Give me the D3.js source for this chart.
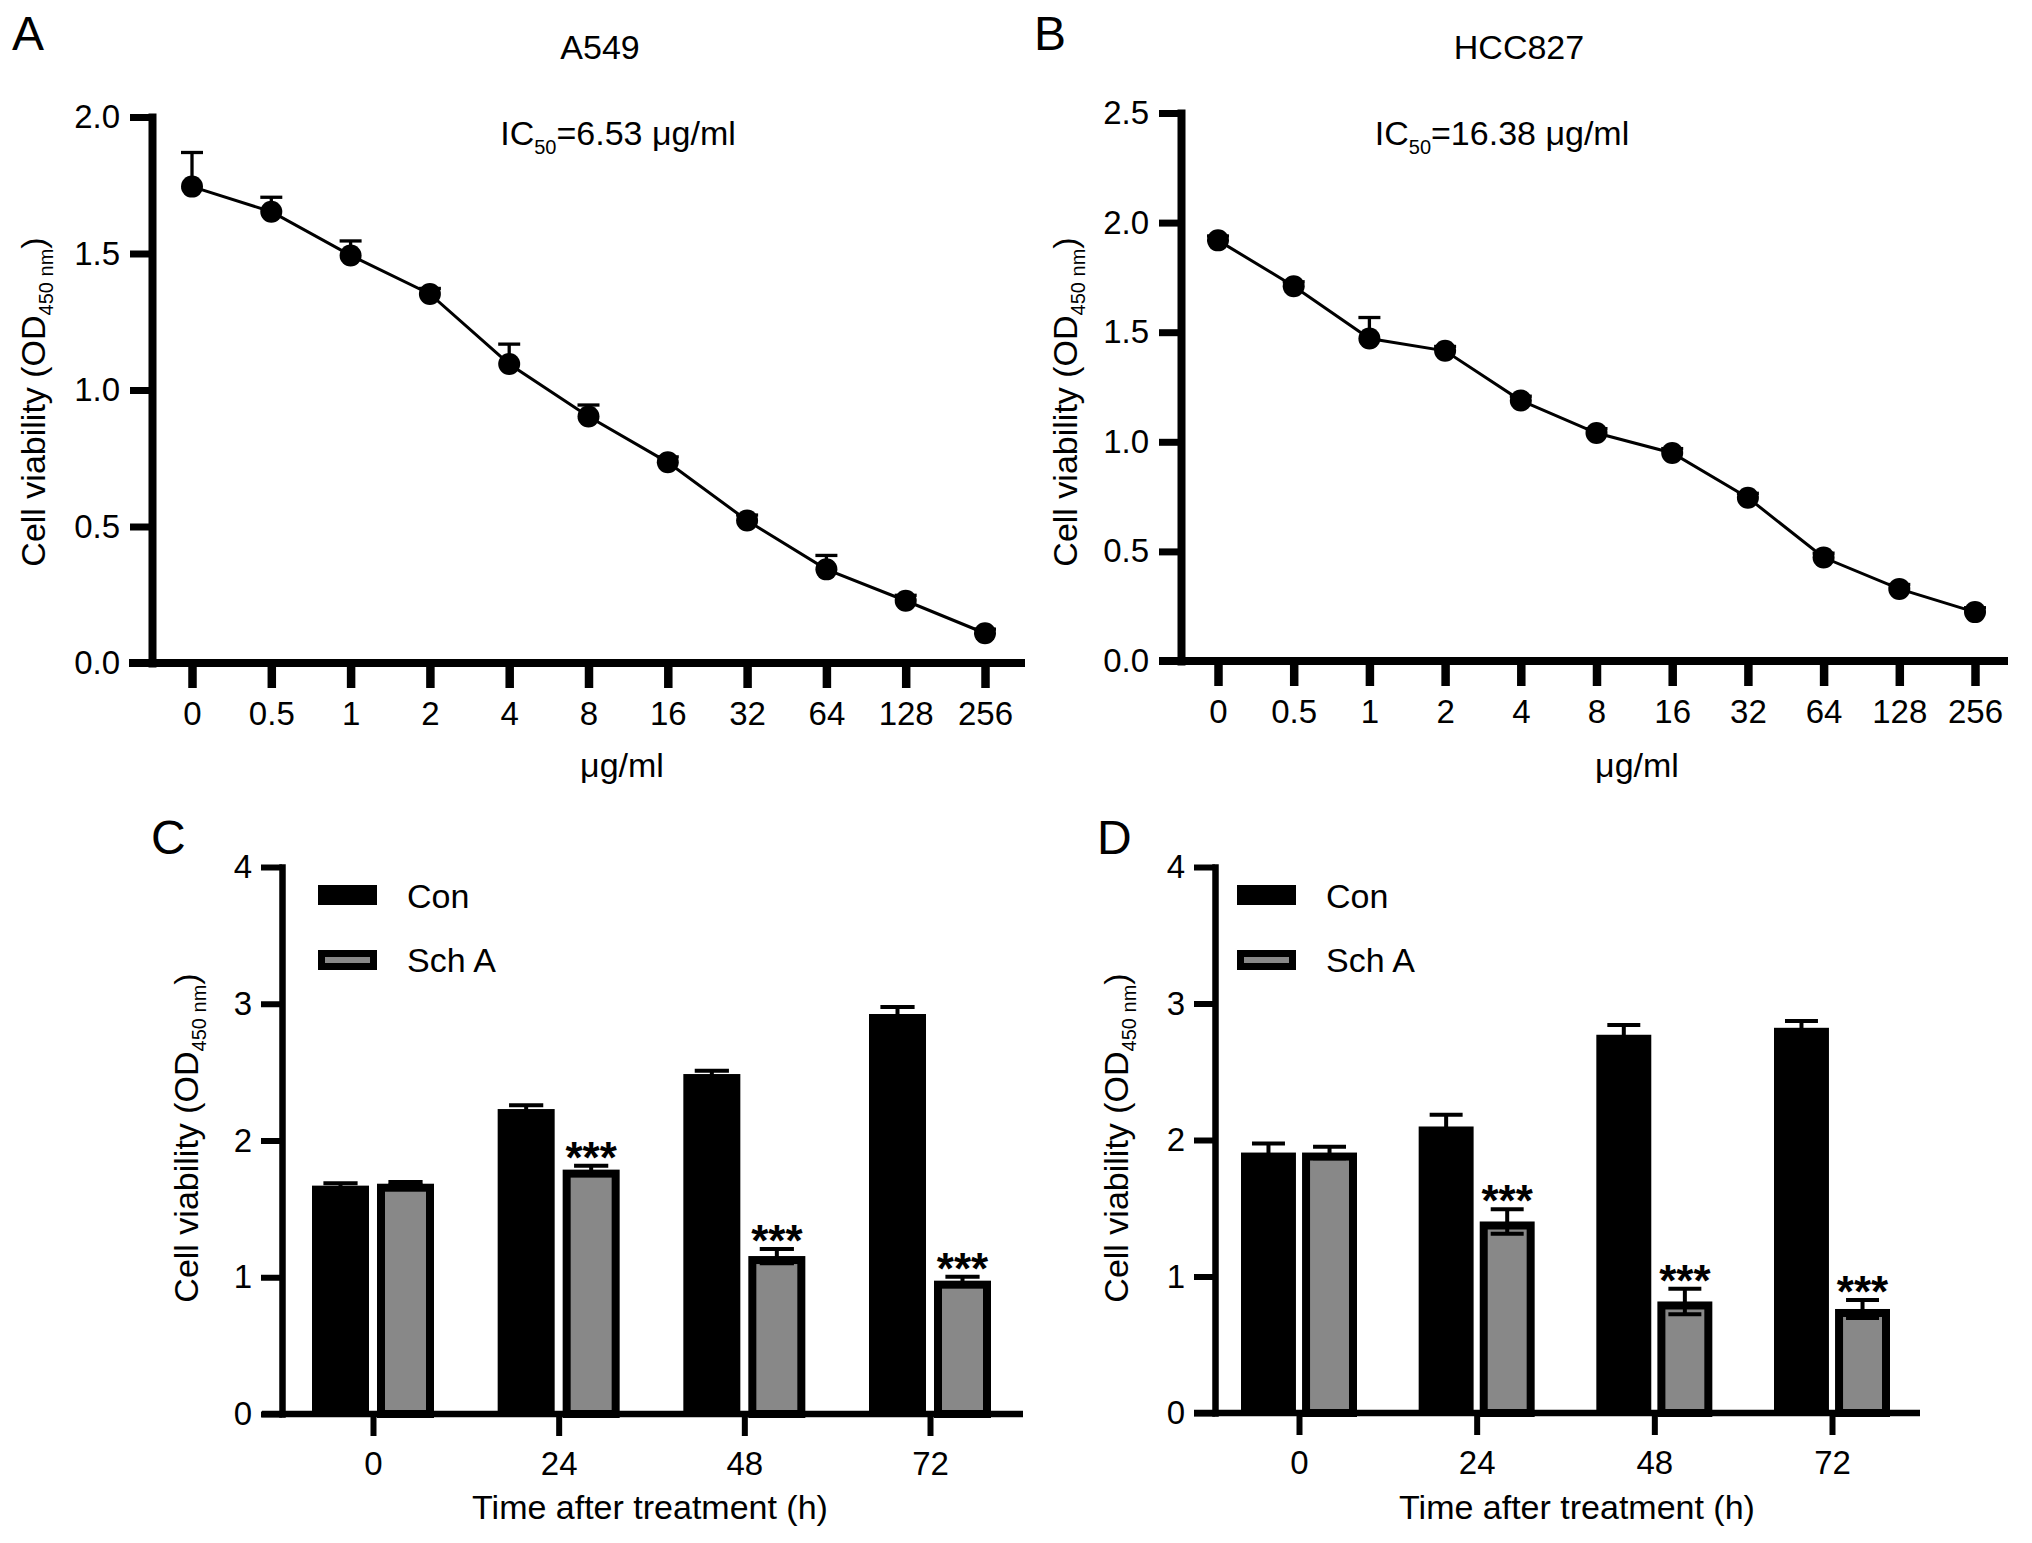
<!DOCTYPE html>
<html>
<head>
<meta charset="utf-8">
<script src="https://cdn.jsdelivr.net/npm/d3@7"></script>
<style>
  body { margin: 0; background: #fff; }
  text { font-family: "Liberation Sans", Arial, sans-serif; fill: #000; }
</style>
</head>
<body>
<svg id="fig" width="2032" height="1543"></svg>
<script>
// ---- data ----
const doses = ["0", "0.5", "1", "2", "4", "8", "16", "32", "64", "128", "256"];

const a549Mean = [1.745, 1.653, 1.493, 1.352, 1.095, 0.903, 0.735, 0.522, 0.343, 0.228, 0.109];
const a549Sd   = [0.125, 0.053, 0.053, 0.02, 0.073, 0.042, 0.02, 0.02, 0.051, 0.02, 0.015];

const hccMean = [1.919, 1.710, 1.471, 1.415, 1.188, 1.040, 0.949, 0.745, 0.472, 0.329, 0.223];
const hccSd   = [0.02, 0.02, 0.096, 0.02, 0.02, 0.02, 0.02, 0.02, 0.02, 0.02, 0.02];

const hours = ["0", "24", "48", "72"];
const groups = ["Con", "Sch A"];

const cCon   = [1.670, 2.230, 2.486, 2.925];
const cConSd = [0.017, 0.028, 0.024, 0.052];
const cSch   = [1.684, 1.787, 1.155, 0.975];
const cSchSd = [0.013, 0.028, 0.052, 0.028];

const dCon   = [1.908, 2.099, 2.771, 2.822];
const dConSd = [0.066, 0.086, 0.072, 0.049];
const dSch   = [1.908, 1.403, 0.817, 0.762];
const dSchSd = [0.042, 0.090, 0.094, 0.066];

// significance stars (Sch A vs Con) per time point
const stars = ["", "***", "***", "***"];

const svg = d3.select("#fig");
svg.append("rect").attr("width", 2032).attr("height", 1543).attr("fill", "#fff");

const FS = 34;     // titles
const TFS = 33;    // tick labels
const GRAY = "#888888";

function panelLetter(letter, x, y) {
  svg.append("text").attr("x", x).attr("y", y)
    .attr("font-size", 48).text(letter);
}

function yTitle(x, y) {
  const t = svg.append("text")
    .attr("transform", `translate(${x},${y}) rotate(-90)`)
    .attr("text-anchor", "middle")
    .attr("font-size", FS);
  t.append("tspan").text("Cell viability (OD");
  t.append("tspan").attr("font-size", 20).attr("dy", 8).text("450 nm");
  t.append("tspan").attr("dy", -8).text(")");
}

function styleAxis(g, axW, tickW) {
  g.select(".domain").attr("stroke-width", axW).attr("stroke-linecap", "square");
  g.selectAll(".tick line").attr("stroke-width", tickW);
  g.selectAll(".tick text").attr("font-size", TFS)
    .attr("font-family", '"Liberation Sans", Arial, sans-serif');
}

function drawLinePanel(p) {
  const y = d3.scaleLinear().domain(p.yDomain).range([p.yBottom, p.yTop]);
  const x = d3.scalePoint().domain(doses).range(p.xRange);

  const gy = svg.append("g").attr("transform", `translate(${p.axisX},0)`)
    .call(d3.axisLeft(y).tickValues(p.yTicks).tickSize(22).tickSizeOuter(0)
      .tickPadding(10).tickFormat(d3.format(".1f")));
  styleAxis(gy, 8, 7);

  const gx = svg.append("g").attr("transform", `translate(0,${p.yBottom})`)
    .call(d3.axisBottom(x).tickSize(25).tickPadding(14));
  gx.select(".domain").remove();
  styleAxis(gx, 8, 8.5);
  svg.append("line").attr("x1", p.xLine[0]).attr("x2", p.xLine[1])
    .attr("y1", p.yBottom).attr("y2", p.yBottom)
    .attr("stroke", "#000").attr("stroke-width", 8);

  const pts = doses.map((d, i) => ({ d, m: p.mean[i], s: p.sd[i] }));

  // error bars (upper whisker only shows above the dot)
  const eb = svg.append("g").attr("stroke", "#000").attr("stroke-width", 3.3);
  pts.forEach(o => {
    eb.append("line").attr("x1", x(o.d)).attr("x2", x(o.d))
      .attr("y1", y(o.m)).attr("y2", y(o.m + o.s));
    eb.append("line").attr("x1", x(o.d) - 11).attr("x2", x(o.d) + 11)
      .attr("y1", y(o.m + o.s)).attr("y2", y(o.m + o.s));
  });

  svg.append("path").datum(pts)
    .attr("fill", "none").attr("stroke", "#000").attr("stroke-width", 3)
    .attr("d", d3.line().x(o => x(o.d)).y(o => y(o.m)));

  svg.append("g").selectAll("circle").data(pts).join("circle")
    .attr("cx", o => x(o.d)).attr("cy", o => y(o.m)).attr("r", 11).attr("fill", "#000");

  // titles
  svg.append("text").attr("x", p.titleX).attr("y", 59).attr("text-anchor", "middle")
    .attr("font-size", FS).text(p.title);
  const ic = svg.append("text").attr("x", p.icX).attr("y", 145).attr("text-anchor", "middle")
    .attr("font-size", FS);
  ic.append("tspan").text("IC");
  ic.append("tspan").attr("font-size", 20).attr("dy", 9).text("50");
  ic.append("tspan").attr("dy", -9).text(p.ic);
  svg.append("text").attr("x", p.unitX).attr("y", 777).attr("text-anchor", "middle")
    .attr("font-size", FS).text("\u03bcg/ml");

  yTitle(p.yTitleX, 402);
  panelLetter(p.letter, p.letterX, 50);
}

function drawBarPanel(p) {
  const y = d3.scaleLinear().domain([0, 4]).range([p.yBottom, p.yTop]);
  const x = d3.scalePoint().domain(hours).range(p.centers);
  const xs = d3.scaleBand().domain(groups).range([-p.half, p.half]).paddingInner(p.pad);
  const bw = xs.bandwidth();

  const rows = [];
  hours.forEach((h, i) => {
    rows.push({ h, g: "Con", m: p.con[i], s: p.conSd[i] });
    rows.push({ h, g: "Sch A", m: p.sch[i], s: p.schSd[i], star: stars[i] });
  });

  const sw = 8; // outline of grey bars
  const bars = svg.append("g");
  rows.forEach(o => {
    const x0 = x(o.h) + xs(o.g);
    if (o.g === "Con") {
      bars.append("rect").attr("x", x0).attr("width", bw)
        .attr("y", y(o.m)).attr("height", y(0) - y(o.m)).attr("fill", "#000");
    } else {
      bars.append("rect").attr("x", x0 + sw / 2).attr("width", bw - sw)
        .attr("y", y(o.m) + sw / 2).attr("height", y(0) - y(o.m) - sw / 2)
        .attr("fill", GRAY).attr("stroke", "#000").attr("stroke-width", sw);
    }
  });

  // error bars
  const eb = svg.append("g").attr("stroke", "#000").attr("stroke-width", 4);
  const cap = bw * 0.3;
  rows.forEach(o => {
    const cx = x(o.h) + xs(o.g) + bw / 2;
    eb.append("line").attr("x1", cx).attr("x2", cx)
      .attr("y1", y(o.m - o.s)).attr("y2", y(o.m + o.s));
    [o.m + o.s, o.m - o.s].forEach(v => {
      eb.append("line").attr("x1", cx - cap).attr("x2", cx + cap)
        .attr("y1", y(v)).attr("y2", y(v));
    });
    if (o.star) {
      svg.append("text").attr("x", cx).attr("y", y(o.m + o.s) + 7)
        .attr("text-anchor", "middle").attr("font-size", 44).attr("font-weight", "bold")
        .text(o.star);
    }
  });

  const gy = svg.append("g").attr("transform", `translate(${p.axisX},0)`)
    .call(d3.axisLeft(y).ticks(4).tickSize(21).tickSizeOuter(0).tickPadding(9)
      .tickFormat(d3.format("d")));
  styleAxis(gy, 6.5, 6);

  const gx = svg.append("g").attr("transform", `translate(0,${p.yBottom})`)
    .call(d3.axisBottom(x).tickSize(22).tickPadding(16));
  gx.select(".domain").remove();
  styleAxis(gx, 6.5, 6);
  svg.append("line").attr("x1", p.xLine[0]).attr("x2", p.xLine[1])
    .attr("y1", p.yBottom).attr("y2", p.yBottom)
    .attr("stroke", "#000").attr("stroke-width", 6.5);

  // legend
  const lg = svg.append("g");
  lg.append("rect").attr("x", p.legX).attr("y", 885).attr("width", 59).attr("height", 20)
    .attr("fill", "#000");
  lg.append("rect").attr("x", p.legX + 3.5).attr("y", 953.5).attr("width", 52).attr("height", 13)
    .attr("fill", GRAY).attr("stroke", "#000").attr("stroke-width", 7);
  lg.append("text").attr("x", p.legX + 89).attr("y", 908).attr("font-size", FS).text(groups[0]);
  lg.append("text").attr("x", p.legX + 89).attr("y", 972).attr("font-size", FS).text(groups[1]);

  svg.append("text").attr("x", p.xTitleX).attr("y", 1519).attr("text-anchor", "middle")
    .attr("font-size", FS).text("Time after treatment (h)");

  yTitle(p.yTitleX, 1138);
  panelLetter(p.letter, p.letterX, 854);
}

drawLinePanel({
  letter: "A", letterX: 12, title: "A549", titleX: 600, ic: "=6.53 \u03bcg/ml", icX: 618,
  mean: a549Mean, sd: a549Sd, yDomain: [0, 2], yTicks: [0, 0.5, 1, 1.5, 2],
  axisX: 152, yTop: 117, yBottom: 663, xRange: [192, 985], xLine: [129, 1025],
  unitX: 622, yTitleX: 45
});

drawLinePanel({
  letter: "B", letterX: 1034, title: "HCC827", titleX: 1519, ic: "=16.38 \u03bcg/ml", icX: 1502,
  mean: hccMean, sd: hccSd, yDomain: [0, 2.5], yTicks: [0, 0.5, 1, 1.5, 2, 2.5],
  axisX: 1181, yTop: 113, yBottom: 661, xRange: [1218, 1975], xLine: [1159, 2008],
  unitX: 1637, yTitleX: 1077
});

drawBarPanel({
  letter: "C", letterX: 151, con: cCon, conSd: cConSd, sch: cSch, schSd: cSchSd,
  axisX: 282, yTop: 867, yBottom: 1414, centers: [373, 930], half: 61, pad: 0.123,
  xLine: [262, 1023], legX: 318, xTitleX: 650, yTitleX: 198
});

drawBarPanel({
  letter: "D", letterX: 1097, con: dCon, conSd: dConSd, sch: dSch, schSd: dSchSd,
  axisX: 1215, yTop: 867, yBottom: 1413, centers: [1299, 1832], half: 58, pad: 0.1,
  xLine: [1194, 1920], legX: 1237, xTitleX: 1577, yTitleX: 1128
});
</script>
</body>
</html>
